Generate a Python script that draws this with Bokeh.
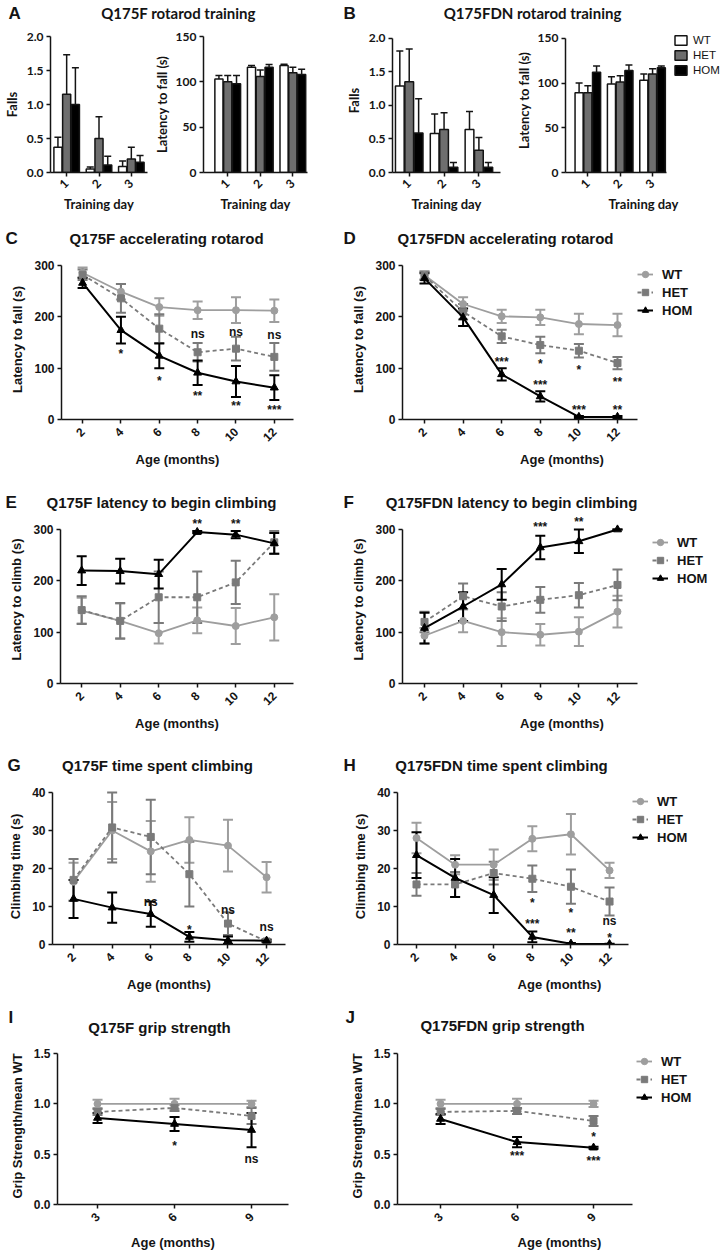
import math
import numpy as np
from bokeh.plotting import figure
from bokeh.models import (Range1d, FixedTicker, NumeralTickFormatter, ColumnDataSource,
                          Whisker, TeeHead, Legend, LegendItem, LabelSet)
from bokeh.layouts import row, column
from bokeh.core.properties import value
from bokeh.embed import file_html
from bokeh.resources import INLINE

# ---------------- data ----------------
genotypes = ["WT", "HET", "HOM"]
days = [1, 2, 3]
months = [2, 4, 6, 8, 10, 12]
grip_months = [3, 6, 9]

# A  Q175F rotarod training
a_falls_wt = [0.37, 0.05, 0.09];  a_falls_wt_err = [0.15, 0.03, 0.08]
a_falls_het = [1.15, 0.50, 0.20]; a_falls_het_err = [0.58, 0.32, 0.17]
a_falls_hom = [1.00, 0.11, 0.15]; a_falls_hom_err = [0.54, 0.13, 0.10]
a_lat_wt = [103, 116, 118];  a_lat_wt_err = [4, 2, 1.5]
a_lat_het = [100, 106, 110]; a_lat_het_err = [7, 7, 6]
a_lat_hom = [98, 116, 108];  a_lat_hom_err = [9, 3, 6]

# B  Q175FDN rotarod training
b_falls_wt = [1.29, 0.58, 0.64];  b_falls_wt_err = [0.52, 0.29, 0.27]
b_falls_het = [1.35, 0.64, 0.33]; b_falls_het_err = [0.49, 0.25, 0.19]
b_falls_hom = [0.59, 0.08, 0.08]; b_falls_hom_err = [0.51, 0.07, 0.07]
b_lat_wt = [89, 99, 103];   b_lat_wt_err = [11, 8, 7]
b_lat_het = [89, 101, 110]; b_lat_het_err = [8, 7, 6]
b_lat_hom = [112, 114, 117]; b_lat_hom_err = [7, 6, 2]

# C  Q175F accelerating rotarod
c_wt = [286, 249, 219, 213, 213, 212];  c_wt_err = [10, 15, 17, 17, 25, 22]
c_het = [282, 236, 177, 131, 138, 122]; c_het_err = [10, 28, 28, 18, 23, 27]
c_hom = [266, 174, 124, 91, 74, 62];    c_hom_err = [10, 26, 24, 24, 30, 24]
c_ann_x = [4, 6, 8, 10, 12, 8, 10, 12]
c_ann_y = [127, 75, 46, 26, 18, 167, 171, 165]
c_ann_t = ["*", "*", "**", "**", "***", "ns", "ns", "ns"]

# D  Q175FDN accelerating rotarod
d_wt = [281, 225, 201, 199, 186, 184];  d_wt_err = [8, 13, 13, 15, 20, 22]
d_het = [280, 210, 162, 145, 134, 110]; d_het_err = [8, 15, 13, 16, 13, 12]
d_hom = [275, 199, 88, 45, 5, 5];       d_hom_err = [10, 17, 12, 10, 2, 2]
d_ann_x = [6, 8, 10, 12, 8, 10, 12]
d_ann_y = [112, 109, 97, 73, 67, 19, 19]
d_ann_t = ["***", "*", "*", "**", "***", "***", "**"]

# E  Q175F latency to begin climbing
e_wt = [142, 122, 98, 123, 112, 129];   e_wt_err = [25, 34, 20, 25, 35, 45]
e_het = [143, 122, 168, 168, 197, 275]; e_het_err = [27, 35, 50, 50, 42, 22]
e_hom = [220, 219, 213, 295, 290, 273]; e_hom_err = [28, 24, 28, 2, 7, 20]
e_ann_x = [8, 10]
e_ann_y = [310, 310]
e_ann_t = ["**", "**"]

# F  Q175FDN latency to begin climbing
f_wt = [93, 122, 100, 95, 101, 140];    f_wt_err = [15, 22, 27, 21, 28, 31]
f_het = [120, 170, 150, 163, 172, 192]; f_het_err = [20, 25, 28, 25, 24, 30]
f_hom = [108, 150, 193, 265, 277, 300]; f_hom_err = [30, 28, 30, 23, 23, 0]
f_ann_x = [8, 10]
f_ann_y = [305, 315]
f_ann_t = ["***", "**"]

# G  Q175F time spent climbing
g_wt = [16.5, 30, 24.5, 27.5, 26, 17.7];  g_wt_err = [5, 7.5, 8, 6, 6.8, 4]
g_het = [17, 30.8, 28.3, 18.5, 5.5, 0.8]; g_het_err = [5.5, 9.2, 9.8, 8.5, 3, 0.3]
g_hom = [12, 9.7, 8, 2, 1.1, 1.0];        g_hom_err = [5, 4, 3.3, 1.3, 1, 0.3]
g_ann_x = [6, 8, 10, 12]
g_ann_y = [11.2, 3.8, 9.1, 4.7]
g_ann_t = ["ns", "*", "ns", "ns"]

# H  Q175FDN time spent climbing
h_wt = [28, 21, 21, 27.8, 29, 19.5];          h_wt_err = [4, 2.5, 4, 3.3, 5.3, 2]
h_het = [15.8, 15.8, 18.8, 17.3, 15.2, 11.3]; h_het_err = [3, 3.3, 3, 3.5, 4.5, 3.7]
h_hom = [23.5, 17.5, 13, 2, 0.2, 0.1];        h_hom_err = [6, 5, 4.7, 1.4, 0.2, 0.1]
h_ann_x = [8, 10, 12, 12, 8, 10]
h_ann_y = [10.8, 8.2, 6.2, 1.7, 5.4, 3.0]
h_ann_t = ["*", "*", "ns", "*", "***", "**"]

# I  Q175F grip strength
i_wt = [1.0, 1.0, 1.0];     i_wt_err = [0.04, 0.05, 0.03]
i_het = [0.92, 0.96, 0.88]; i_het_err = [0.03, 0.03, 0.08]
i_hom = [0.86, 0.80, 0.74]; i_hom_err = [0.05, 0.07, 0.17]
i_ann_x = [6, 9]
i_ann_y = [0.58, 0.45]
i_ann_t = ["*", "ns"]

# J  Q175FDN grip strength
j_wt = [1.0, 1.0, 1.0];      j_wt_err = [0.04, 0.05, 0.03]
j_het = [0.92, 0.93, 0.83];  j_het_err = [0.03, 0.03, 0.05]
j_hom = [0.85, 0.62, 0.565]; j_hom_err = [0.05, 0.05, 0.01]
j_ann_x = [9, 6, 9]
j_ann_y = [0.67, 0.48, 0.43]
j_ann_t = ["*", "***", "***"]

# ---------------- style ----------------
ARIAL = "Liberation Sans"
MYR = "Lato"
INK = "#141414"
C_WT, C_HET, C_HOM = "#9e9e9e", "#7a7a7a", "#000000"
BAR_FILLS = ["#ffffff", "#6e6e6e", "#000000"]
LEFT_W, RIGHT_W = 340, 383


def new_fig(w, h, xr, yr, ml, mr, mt, mb):
    p = figure(width=w, height=h, x_range=Range1d(*xr), y_range=Range1d(*yr),
               output_backend="svg", toolbar_location=None, title=None,
               min_border_left=ml, min_border_right=mr, min_border_top=mt, min_border_bottom=mb)
    p.xgrid.visible = False
    p.ygrid.visible = False
    p.outline_line_color = None
    return p


def style_axes(p, font, tick_px, lab_px, xticks, yticks, xlabel, ylabel, yfmt=None,
               xbounds=None, ybounds=None, xl_stand=4, yl_stand=5, x_tick_stand=3):
    for ax in p.axis:
        ax.axis_line_color = INK
        ax.axis_line_width = 1.5
        ax.major_tick_line_color = INK
        ax.major_tick_line_width = 1.5
        ax.major_tick_out = 4
        ax.major_tick_in = 0
        ax.minor_tick_line_color = None
        ax.major_label_text_font = font
        ax.major_label_text_font_style = "bold"
        ax.major_label_text_font_size = tick_px
        ax.major_label_text_color = INK
        ax.axis_label_text_font = font
        ax.axis_label_text_font_style = "bold"
        ax.axis_label_text_font_size = lab_px
        ax.axis_label_text_color = INK
        ax.major_label_standoff = 3
    xa = p.xaxis[0]
    ya = p.yaxis[0]
    xa.ticker = FixedTicker(ticks=xticks)
    ya.ticker = FixedTicker(ticks=yticks)
    xa.major_label_orientation = math.pi / 4
    xa.major_label_standoff = x_tick_stand
    xa.axis_label = xlabel
    ya.axis_label = ylabel
    xa.axis_label_standoff = xl_stand
    ya.axis_label_standoff = yl_stand
    if yfmt:
        ya.formatter = NumeralTickFormatter(format=yfmt)
    if xbounds:
        xa.bounds = xbounds
    if ybounds:
        ya.bounds = ybounds


def header(w, h, letter, lx, ly, title, tx, ty, tfont, tsize):
    p = figure(width=w, height=h, x_range=Range1d(0, w), y_range=Range1d(h, 0),
               output_backend="svg", toolbar_location=None, title=None,
               x_axis_location=None, y_axis_location=None, min_border=0)
    p.xgrid.visible = False
    p.ygrid.visible = False
    p.outline_line_color = None
    p.text(x=[lx], y=[ly], text=[letter], text_font=value(ARIAL), text_font_style="bold",
           text_font_size="17px", text_align="left", text_baseline="middle", text_color=INK)
    p.text(x=[tx], y=[ty], text=[title], text_font=value(tfont), text_font_style="bold",
           text_font_size=tsize, text_align="center", text_baseline="middle", text_color=INK)
    return p


def bar_panel(p, vals, errs, off=0.27, width=0.25):
    rends = []
    for i, (v, e, fc) in enumerate(zip(vals, errs, BAR_FILLS)):
        x = np.array(days, dtype=float) + (i - 1) * off
        v = np.array(v, dtype=float)
        e = np.array(e, dtype=float)
        src = ColumnDataSource(dict(x=x, top=v, hi=v + e))
        p.add_layout(Whisker(source=src, base="x", lower="top", upper="hi", line_color=INK,
                             line_width=1.5, lower_head=None,
                             upper_head=TeeHead(size=7, line_color=INK, line_width=1.5)))
        r = p.vbar(x="x", top="top", bottom=0, width=width, source=src, fill_color=fc,
                   line_color=INK, line_width=1.5)
        rends.append(r)
    return rends


def line_panel(p, xs, series, ann_x, ann_y, ann_t):
    styles = [(C_WT, "circle", 7, "solid", 1.8),
              (C_HET, "square", 7, "4 3", 1.8),
              (C_HOM, "triangle", 8, "solid", 2.0)]
    items = []
    for (y, e), (col, mk, sz, dash, lw), name in zip(series, styles, genotypes):
        y = np.array(y, dtype=float)
        e = np.array(e, dtype=float)
        src = ColumnDataSource(dict(x=xs, y=y, lo=y - e, hi=y + e))
        p.add_layout(Whisker(source=src, base="x", lower="lo", upper="hi", line_color=col,
                             line_width=2,
                             lower_head=TeeHead(size=10, line_color=col, line_width=2),
                             upper_head=TeeHead(size=10, line_color=col, line_width=2)))
        l = p.line("x", "y", source=src, line_color=col, line_width=lw, line_dash=dash)
        s = p.scatter("x", "y", source=src, marker=mk, size=sz, fill_color=col, line_color=col)
        items.append(LegendItem(label=name, renderers=[l, s]))
    asrc = ColumnDataSource(dict(x=ann_x, y=ann_y, t=ann_t))
    p.add_layout(LabelSet(x="x", y="y", text="t", source=asrc, text_align="center",
                          text_baseline="middle", text_font=value(ARIAL),
                          text_font_style="bold", text_font_size="12px", text_color=INK))
    return items


def add_legend(p, items, loc, bold=True, size="13px", item_h=18, glyph_h=18, standoff=9, gw=16):
    leg = Legend(items=items, location=loc, padding=0, margin=0, spacing=0,
                 glyph_width=gw, glyph_height=glyph_h, label_height=item_h,
                 label_standoff=standoff, label_text_font=ARIAL,
                 label_text_font_style="bold" if bold else "normal",
                 label_text_font_size=size, label_text_color=INK,
                 border_line_color=None, background_fill_alpha=0)
    p.add_layout(leg)


# ---------------- row 1: A / B ----------------
hA = header(LEFT_W, 22, "A", 8, 13, "Q175F rotarod training", 178, 12, MYR, "15px")
A1 = new_fig(150, 193, (0.5, 3.5), (0, 2.0), 43, 3, 14, 41)
bar_panel(A1, [a_falls_wt, a_falls_het, a_falls_hom], [a_falls_wt_err, a_falls_het_err, a_falls_hom_err])
style_axes(A1, MYR, "12px", "13px", days, [0, 0.5, 1.0, 1.5, 2.0], "Training day", "Falls",
           yfmt="0.0", xl_stand=1, yl_stand=4, x_tick_stand=5)
A2 = new_fig(190, 193, (0.256, 3.45), (0, 150), 47, 33, 14, 41)
bar_panel(A2, [a_lat_wt, a_lat_het, a_lat_hom], [a_lat_wt_err, a_lat_het_err, a_lat_hom_err])
style_axes(A2, MYR, "12px", "13px", days, [0, 50, 100, 150], "Training day", "Latency to fall (s)",
           xl_stand=1, yl_stand=3, x_tick_stand=5)

hB = header(RIGHT_W, 22, "B", 3, 13, "Q175FDN rotarod training", 192, 12, MYR, "15px")
B1 = new_fig(172, 193, (0.52, 3.62), (0, 2.145), 52, 12, 6, 39)
bar_panel(B1, [b_falls_wt, b_falls_het, b_falls_hom], [b_falls_wt_err, b_falls_het_err, b_falls_hom_err])
style_axes(B1, MYR, "12px", "13px", days, [0, 0.5, 1.0, 1.5, 2.0], "Training day", "Falls",
           yfmt="0.0", ybounds=(0, 2.0), xl_stand=1, yl_stand=4, x_tick_stand=5)
B2 = new_fig(211, 193, (0.31, 5.13), (0, 160.9), 45, 2, 6, 39)
b2r = bar_panel(B2, [b_lat_wt, b_lat_het, b_lat_hom], [b_lat_wt_err, b_lat_het_err, b_lat_hom_err])
style_axes(B2, MYR, "12px", "13px", days, [0, 50, 100, 150], "Training day", "Latency to fall (s)",
           xbounds=(0.31, 3.43), ybounds=(0, 150), xl_stand=1, yl_stand=3, x_tick_stand=5)
add_legend(B2, [LegendItem(label=n, renderers=[r]) for n, r in zip(genotypes, b2r)],
           (108, 95), bold=False, size="11.5px", item_h=15, glyph_h=12, standoff=5, gw=15)

# ---------------- row 2: C / D ----------------
hC = header(LEFT_W, 35, "C", 5, 23, "Q175F accelerating rotarod", 166, 23, ARIAL, "15px")
C = new_fig(LEFT_W, 220, (0.9, 13.0), (0, 311.7), 61, 47, 9, 51)
line_panel(C, months, [(c_wt, c_wt_err), (c_het, c_het_err), (c_hom, c_hom_err)], c_ann_x, c_ann_y, c_ann_t)
style_axes(C, ARIAL, "12px", "13px", months, [0, 100, 200, 300], "Age (months)", "Latency to fall (s)",
           ybounds=(0, 300), xl_stand=4, yl_stand=6, x_tick_stand=6)

hD = header(RIGHT_W, 35, "D", 3, 23, "Q175FDN accelerating rotarod", 165, 23, ARIAL, "15px")
D = new_fig(RIGHT_W, 220, (0.86, 17.39), (0, 311.7), 62, 2, 9, 51)
dit = line_panel(D, months, [(d_wt, d_wt_err), (d_het, d_het_err), (d_hom, d_hom_err)], d_ann_x, d_ann_y, d_ann_t)
style_axes(D, ARIAL, "12px", "13px", months, [0, 100, 200, 300], "Age (months)", "Latency to fall (s)",
           xbounds=(0.86, 13.04), ybounds=(0, 300), xl_stand=4, yl_stand=6, x_tick_stand=6)
add_legend(D, dit, (235, 100))

# ---------------- row 3: E / F ----------------
hE = header(LEFT_W, 43, "E", 5, 32, "Q175F latency to begin climbing", 161, 32, ARIAL, "15px")
E = new_fig(LEFT_W, 222, (0.9, 13.0), (0, 327.3), 60, 47, 2, 52)
line_panel(E, months, [(e_wt, e_wt_err), (e_het, e_het_err), (e_hom, e_hom_err)], e_ann_x, e_ann_y, e_ann_t)
style_axes(E, ARIAL, "12px", "13px", months, [0, 100, 200, 300], "Age (months)", "Latency to climb (s)",
           ybounds=(0, 300), xl_stand=4, yl_stand=6, x_tick_stand=6)

hF = header(RIGHT_W, 43, "F", 3, 32, "Q175FDN latency to begin climbing", 171, 32, ARIAL, "15px")
F = new_fig(RIGHT_W, 222, (0.86, 17.39), (0, 327.3), 62, 2, 2, 52)
fit = line_panel(F, months, [(f_wt, f_wt_err), (f_het, f_het_err), (f_hom, f_hom_err)], f_ann_x, f_ann_y, f_ann_t)
style_axes(F, ARIAL, "12px", "13px", months, [0, 100, 200, 300], "Age (months)", "Latency to climb (s)",
           xbounds=(0.86, 13.04), ybounds=(0, 300), xl_stand=4, yl_stand=6, x_tick_stand=6)
add_legend(F, fit, (250, 96))

# ---------------- row 4: G / H ----------------
hG = header(LEFT_W, 45, "G", 7, 30, "Q175F time spent climbing", 157, 30, ARIAL, "15px")
G = new_fig(LEFT_W, 215, (0.91, 12.98), (0, 41.04), 52, 55, 8, 49)
line_panel(G, months, [(g_wt, g_wt_err), (g_het, g_het_err), (g_hom, g_hom_err)], g_ann_x, g_ann_y, g_ann_t)
style_axes(G, ARIAL, "12px", "13px", months, [0, 10, 20, 30, 40], "Age (months)", "Climbing time (s)",
           ybounds=(0, 40), xl_stand=4, yl_stand=6, x_tick_stand=6)

hH = header(RIGHT_W, 45, "H", 3, 30, "Q175FDN time spent climbing", 161, 30, ARIAL, "15px")
H = new_fig(RIGHT_W, 215, (1.016, 17.8), (0, 41.04), 57, 2, 8, 49)
hit = line_panel(H, months, [(h_wt, h_wt_err), (h_het, h_het_err), (h_hom, h_hom_err)], h_ann_x, h_ann_y, h_ann_t)
style_axes(H, ARIAL, "12px", "13px", months, [0, 10, 20, 30, 40], "Age (months)", "Climbing time (s)",
           xbounds=(1.016, 12.98), ybounds=(0, 40), xl_stand=4, yl_stand=6, x_tick_stand=6)
add_legend(H, hit, (235, 98))

# ---------------- row 5: I / J ----------------
hI = header(LEFT_W, 45, "I", 8, 22, "Q175F grip strength", 159, 32, ARIAL, "15px")
I = new_fig(LEFT_W, 212, (1.44, 10.44), (0, 1.56), 57, 52, 7, 45)
line_panel(I, grip_months, [(i_wt, i_wt_err), (i_het, i_het_err), (i_hom, i_hom_err)], i_ann_x, i_ann_y, i_ann_t)
style_axes(I, ARIAL, "12px", "13px", grip_months, [0, 0.5, 1.0, 1.5], "Age (months)", "Grip Strength/mean WT",
           yfmt="0.0", ybounds=(0, 1.5), xl_stand=6, yl_stand=6, x_tick_stand=6)

hJ = header(RIGHT_W, 45, "J", 5, 22, "Q175FDN grip strength", 162, 30, ARIAL, "15px")
J = new_fig(RIGHT_W, 212, (1.31, 14.02), (0, 1.56), 57, 2, 7, 45)
jit = line_panel(J, grip_months, [(j_wt, j_wt_err), (j_het, j_het_err), (j_hom, j_hom_err)], j_ann_x, j_ann_y, j_ann_t)
style_axes(J, ARIAL, "12px", "13px", grip_months, [0, 0.5, 1.0, 1.5], "Age (months)", "Grip Strength/mean WT",
           yfmt="0.0", xbounds=(1.31, 10.53), ybounds=(0, 1.5), xl_stand=6, yl_stand=6, x_tick_stand=6)
add_legend(J, jit, (239, 98))

layout = column(
    row(column(hA, row(A1, A2)), column(hB, row(B1, B2))),
    row(column(hC, row(C)), column(hD, row(D))),
    row(column(hE, row(E)), column(hF, row(F))),
    row(column(hG, row(G)), column(hH, row(H))),
    row(column(hI, row(I)), column(hJ, row(J))),
)

open("out.html", "w").write(file_html(layout, INLINE))
